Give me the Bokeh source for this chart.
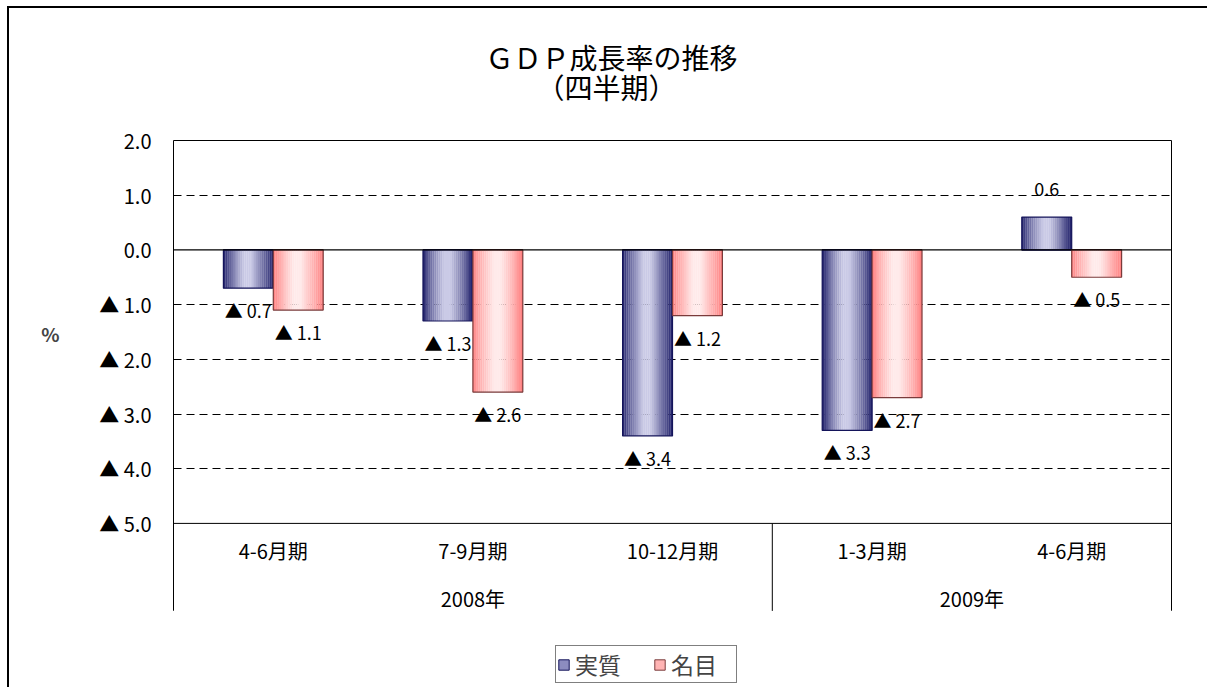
import numpy as np
from bokeh.plotting import figure
from bokeh.models import (FactorRange, FixedTicker, Span, Title, Legend, LegendItem,
                          ColumnDataSource, LinearAxis, Range1d, Grid)
from bokeh.transform import dodge
from bokeh.core.properties import value
from bokeh.embed import file_html
from bokeh.resources import INLINE

# ---------------- data ----------------
years = ["2008年", "2008年", "2008年", "2009年", "2009年"]
quarters = ["4-6月期", "7-9月期", "10-12月期", "1-3月期", "4-6月期"]
real = [-0.7, -1.3, -3.4, -3.3, 0.6]
nominal = [-1.1, -2.6, -1.2, -2.7, -0.5]
series_names = ["実質", "名目"]
y_ticks = [2, 1, 0, -1, -2, -3, -4, -5]
y_tick_labels = ["2.0", "1.0", "0.0", "▲ 1.0", "▲ 2.0", "▲ 3.0", "▲ 4.0", "▲ 5.0"]
title_line1 = "ＧＤＰ成長率の推移"
title_line2 = "（四半期）"
y_unit = "%"

JP = "Noto Sans CJK JP"
factors = list(zip(years, quarters))
year_groups = list(dict.fromkeys(years))

# layout constants (value-space extents of the drawing area below the value axis)
Y_TOP = max(y_ticks)
Y_AXIS_END = min(y_ticks)
Y_CAT_END = -6.6     # where the category separators end
Y_FRAME_END = -8.0   # bottom of the drawing area (room for category labels + legend)

# group boundaries (in factor units) for the category separators
bounds = [0]
for yname in year_groups:
    bounds.append(bounds[-1] + years.count(yname))

x_range = FactorRange(*factors, range_padding=0, factor_padding=0,
                      group_padding=0, subgroup_padding=0)
p = figure(width=1207, height=687, x_range=x_range,
           y_range=Range1d(Y_FRAME_END, Y_TOP),
           x_axis_location=None,
           output_backend="svg", toolbar_location=None,
           min_border_left=173, min_border_right=36,
           min_border_top=140, min_border_bottom=0,
           styles={"background-color": "white",
                   "background-image": "linear-gradient(#000, #000), linear-gradient(#000, #000)",
                   "background-size": "2px 100%, 100% 2px",
                   "background-position": "7px 6px, 7px 6px",
                   "background-repeat": "no-repeat"})
p.background_fill_color = "white"
p.border_fill_alpha = 0
p.outline_line_color = None
for r in p.center:
    if isinstance(r, Grid) and r.dimension == 0:
        r.visible = False

# ---------------- top line / spacer axis + titles ----------------
p.title.visible = False
top_sp = LinearAxis(ticker=FixedTicker(ticks=[bounds[0]]),
                    major_label_overrides={bounds[0]: ""},
                    major_label_text_font_size="0px",
                    major_tick_out=34, major_tick_in=0, major_label_standoff=0,
                    axis_line_color="black", axis_line_width=1,
                    major_tick_line_color=None, minor_tick_line_color=None)
p.add_layout(top_sp, "above")
t2 = Title(text=title_line2, align="left", offset=363, standoff=0,
           text_font=JP, text_font_size="28px", text_font_style="normal", text_color="black")
t1 = Title(text=title_line1, align="left", offset=312, standoff=-25,
           text_font=JP, text_font_size="28px", text_font_style="normal", text_color="black")
p.add_layout(t2, "above")
p.add_layout(t1, "above")

# ---------------- grid / zero line / bottom line ----------------
p.ygrid.ticker = FixedTicker(ticks=[t for t in y_ticks if t not in (0, Y_TOP, Y_AXIS_END)])
p.ygrid.grid_line_color = "black"
p.ygrid.grid_line_dash = "8 5"
p.ygrid.grid_line_width = 1
p.add_layout(Span(location=0, dimension="width", line_color="black", line_width=1.3))
p.add_layout(Span(location=Y_AXIS_END, dimension="width", line_color="black", line_width=1))

# ---------------- bars (horizontal gradient built from slices) ----------------
BAR_W = 0.25
N = 26


def hexc(c):
    return "#%02x%02x%02x" % tuple(int(round(v)) for v in c)


def gradient(edge, center, n):
    cols = []
    for k in range(n):
        t = (k + 0.5) / n
        if t < 0.42:
            l = (t / 0.42) ** 0.75
        elif t < 0.55:
            l = 1.0
        else:
            l = ((1 - t) / 0.45) ** 0.85
        cols.append(hexc([e + (c - e) * l for e, c in zip(edge, center)]))
    return cols


src = ColumnDataSource(dict(x=factors, real=real, nominal=nominal))
series = [
    ("real", -BAR_W / 2, gradient((24, 24, 100), (202, 202, 230), N), "#14145a", "#8c8cc0"),
    ("nominal", BAR_W / 2, gradient((255, 122, 122), (255, 234, 234), N), "#7a3b3b", "#ffb4b4"),
]
legend_items = []
for (col, off, cols, border, mid), name in zip(series, series_names):
    sw = BAR_W / N
    # legend proxy: zero-height bars sitting on the zero line (hidden under it)
    lr = p.vbar(x=dodge("x", off, range=x_range), top=0, bottom=0, width=BAR_W,
                source=src, fill_color=mid, line_color=border, line_width=1)
    legend_items.append(LegendItem(label=name, renderers=[lr]))
    for k in range(N):
        so = off - BAR_W / 2 + (k + 0.5) * sw
        p.vbar(x=dodge("x", so, range=x_range), top=col, bottom=0, width=sw * 1.08,
               source=src, fill_color=cols[k], line_color=None)
    p.vbar(x=dodge("x", off, range=x_range), top=col, bottom=0, width=BAR_W,
           source=src, fill_color=None, line_color=border, line_width=1.2)

    vals = src.data[col]
    lab = ColumnDataSource(dict(
        x=factors, y=vals,
        text=[("▲ " if v < 0 else "") + f"{abs(v):.1f}" for v in vals],
        yoff=[22 if v < 0 else -28 for v in vals]))
    p.text(x=dodge("x", off, range=x_range), y="y", text="text", y_offset="yoff",
           source=lab, text_align="center", text_baseline="middle",
           text_font=value(JP), text_font_size="18px", text_color="black")

# ---------------- category axis (labels + separators) ----------------
cat_src = ColumnDataSource(dict(x=factors, y=[Y_AXIS_END] * len(factors), text=quarters))
p.text(x="x", y="y", text="text", source=cat_src, y_offset=27,
       text_align="center", text_baseline="middle",
       text_font=value(JP), text_font_size="20px", text_color="black")
grp_src = ColumnDataSource(dict(x=year_groups, y=[Y_AXIS_END] * len(year_groups), text=year_groups))
p.text(x="x", y="y", text="text", source=grp_src, y_offset=75,
       text_align="center", text_baseline="middle",
       text_font=value(JP), text_font_size="20px", text_color="black")
sep_src = ColumnDataSource(dict(b=bounds))
p.segment(x0="b", y0=Y_AXIS_END, x1="b", y1=Y_CAT_END, source=sep_src,
          line_color="black", line_width=1)

# ---------------- y axis ----------------
ya = p.yaxis[0]
ya.ticker = FixedTicker(ticks=y_ticks)
ya.bounds = (Y_CAT_END, Y_TOP)
ya.major_label_overrides = dict(zip(y_ticks, y_tick_labels))
ya.major_label_text_font = JP
ya.major_label_text_font_size = "20px"
ya.major_label_text_color = "black"
ya.major_label_standoff = 22
ya.major_tick_out = 0
ya.major_tick_in = 0
ya.major_tick_line_color = None
ya.minor_tick_line_color = None
ya.axis_line_color = "black"

# unit label; trailing blank lines lift it to the middle of the value scale
unit_axis = LinearAxis(ticker=FixedTicker(ticks=[]), bounds=(Y_AXIS_END, Y_TOP),
                       axis_label=y_unit + "\n" * 5, axis_label_orientation="horizontal",
                       axis_label_text_font=JP, axis_label_text_font_size="19px",
                       axis_label_text_font_style="bold", axis_label_standoff=37,
                       major_tick_out=0, major_tick_in=0, axis_line_color=None,
                       major_tick_line_color=None, minor_tick_line_color=None)
p.add_layout(unit_axis, "left")

right_axis = LinearAxis(ticker=FixedTicker(ticks=[]), bounds=(Y_CAT_END, Y_TOP),
                        major_tick_out=0, major_tick_in=0, axis_line_color="black",
                        major_tick_line_color=None, minor_tick_line_color=None)
p.add_layout(right_axis, "right")

# ---------------- legend ----------------
legend = Legend(items=legend_items, orientation="horizontal", location=(382, 4),
                label_text_font=JP, label_text_font_size="23px",
                glyph_width=13, glyph_height=13, label_standoff=5, spacing=14,
                label_width=64, padding=1, margin=0,
                border_line_color="black", border_line_width=1,
                background_fill_color="white", background_fill_alpha=1)
p.add_layout(legend, "center")

open("out.html", "w").write(file_html(p, INLINE))
